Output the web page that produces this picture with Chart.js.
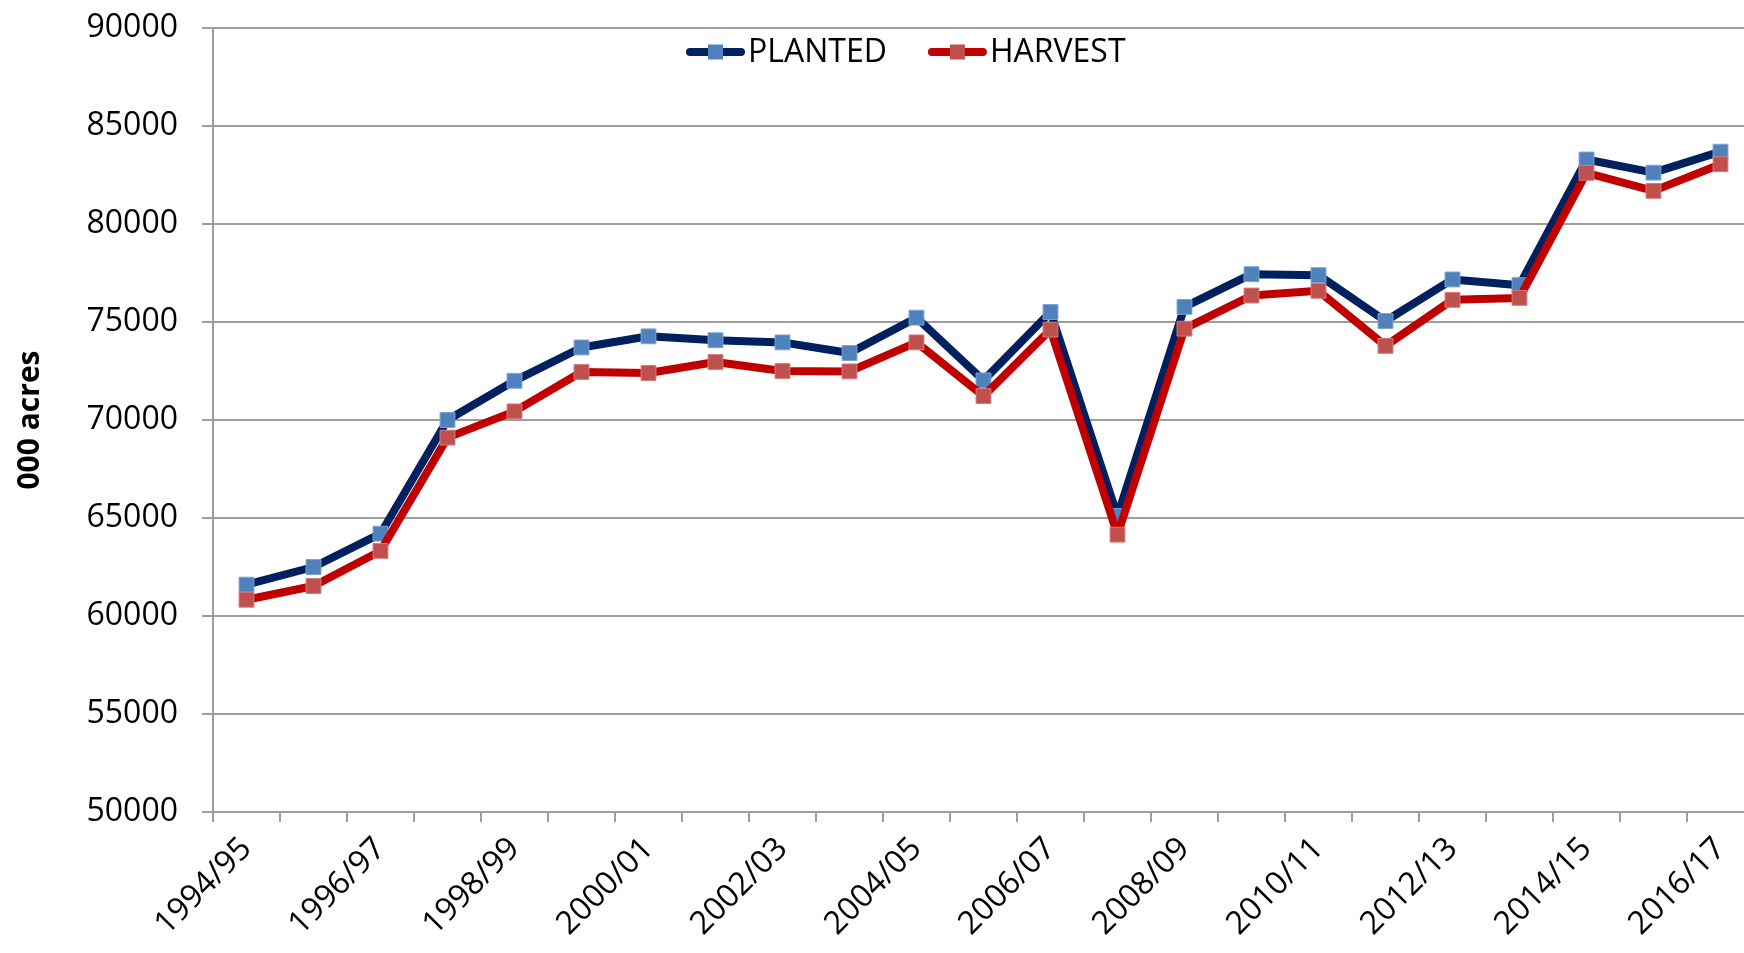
<!DOCTYPE html>
<html>
<head>
<meta charset="utf-8">
<script src="https://cdn.jsdelivr.net/npm/chart.js@4.4.1/dist/chart.umd.min.js"></script>
<style>
  html, body { margin: 0; padding: 0; background: #fff; overflow: hidden; }
  #wrap { position: relative; width: 1770px; height: 953px; }
</style>
</head>
<body>
<div id="wrap"><canvas id="myChart"></canvas></div>
<script>
const FONT = '"Open Sans", "Noto Sans", sans-serif';
const GRID = '#9d9d9d';

const categories = [
    '1994/95', '1995/96', '1996/97', '1997/98', '1998/99', '1999/00',
    '2000/01', '2001/02', '2002/03', '2003/04', '2004/05', '2005/06',
    '2006/07', '2007/08', '2008/09', '2009/10', '2010/11', '2011/12',
    '2012/13', '2013/14', '2014/15', '2015/16', '2016/17'
];
const planted = [
    61600, 62500, 64200, 70000, 72000, 73700,
    74270, 74070, 73960, 73420, 75220, 72020,
    75510, 65100, 75770, 77440, 77390, 75050,
    77170, 76880, 83290, 82620, 83690
];
const harvest = [
    60830, 61530, 63320, 69100, 70440, 72450,
    72400, 72960, 72500, 72480, 73960, 71220,
    74610, 64150, 74660, 76350, 76590, 73780,
    76130, 76230, 82610, 81690, 83050
];
const yTicks = { min: 50000, max: 90000, step: 5000 };

function getDataset(label, data, lineColor, markerColor, markerEdge, order) {
    return {
        label,
        data,
        borderColor: lineColor,
        backgroundColor: lineColor,
        borderWidth: 8,
        borderCapStyle: 'round',
        borderJoinStyle: 'round',
        tension: 0,
        pointStyle: 'rect',
        pointRadius: 10.5,
        pointHoverRadius: 10.5,
        pointBackgroundColor: markerColor,
        pointBorderColor: markerEdge,
        pointBorderWidth: 1,
        markerColor,
        order
    };
}

// legend sits inside the plot, below the top gridline
const insideLegend = {
    id: 'insideLegend',
    afterDraw(chart) {
        const ctx = chart.ctx;
        const area = chart.chartArea;
        let x = area.left + 473;
        const y = area.top + 24;
        ctx.save();
        ctx.font = '32px ' + FONT;
        ctx.textBaseline = 'middle';
        ctx.fillStyle = '#000';
        // PLANTED first, as in the reference
        const sets = chart.data.datasets.slice().sort((a, b) => b.order - a.order);
        sets.forEach(ds => {
            ctx.strokeStyle = ds.borderColor;
            ctx.lineWidth = 8;
            ctx.lineCap = 'round';
            ctx.beginPath();
            ctx.moveTo(x + 4, y);
            ctx.lineTo(x + 55, y);
            ctx.stroke();
            ctx.fillStyle = ds.markerColor;
            ctx.fillRect(x + 22, y - 7.5, 15, 15);
            ctx.fillStyle = '#000';
            ctx.fillText(ds.label, x + 62, y + 1);
            x += 62 + ctx.measureText(ds.label).width + 41;
        });
        ctx.restore();
    }
};

function initChart(ctx) {
    return new Chart(ctx, {
        type: 'line',
        data: {
            labels: categories,
            datasets: [
                getDataset('PLANTED', planted, '#002060', '#4f81bd', '#7da3d3', 2),
                getDataset('HARVEST', harvest, '#c00000', '#c0504d', '#d47c7a', 1)
            ]
        },
        options: {
            animation: false,
            responsive: true,
            maintainAspectRatio: false,
            layout: { padding: { left: 0, right: 16, top: 28, bottom: 0 } },
            plugins: {
                legend: { display: false },
                tooltip: { enabled: false }
            },
            scales: {
                x: {
                    offset: true,
                    afterFit: s => { s.height = 141; },
                    grid: {
                        drawOnChartArea: false,
                        drawTicks: true,
                        tickLength: 10,
                        color: GRID,
                        lineWidth: 2,
                        offset: true
                    },
                    border: { color: GRID, width: 2 },
                    ticks: {
                        autoSkip: false,
                        maxRotation: 45,
                        minRotation: 45,
                        padding: 8,
                        color: '#000',
                        font: { family: FONT, size: 32 },
                        callback: (v, i) => (i % 2 === 0 ? categories[i] : '')
                    }
                },
                y: {
                    min: yTicks.min,
                    max: yTicks.max,
                    afterFit: s => {
                        s.width = 213;
                        // label padding would otherwise push the plot down
                        s.paddingTop = 0;
                        s.paddingBottom = 0;
                    },
                    grid: {
                        color: GRID,
                        lineWidth: 2,
                        tickLength: 11
                    },
                    border: { color: GRID, width: 2 },
                    ticks: {
                        stepSize: yTicks.step,
                        padding: 24,
                        color: '#000',
                        font: { family: FONT, size: 32 },
                        callback: v => String(v)
                    },
                    title: {
                        display: true,
                        text: '000 acres',
                        color: '#000',
                        padding: { top: 12, bottom: 0 },
                        font: { family: FONT, size: 30, weight: 'bold' }
                    }
                }
            }
        },
        plugins: [insideLegend]
    });
}

var chart;
var ctx = document.getElementById('myChart').getContext('2d');
document.fonts.load('32px "Open Sans"').then(
    () => { chart = initChart(ctx); },
    () => { chart = initChart(ctx); }
);
</script>
</body>
</html>
